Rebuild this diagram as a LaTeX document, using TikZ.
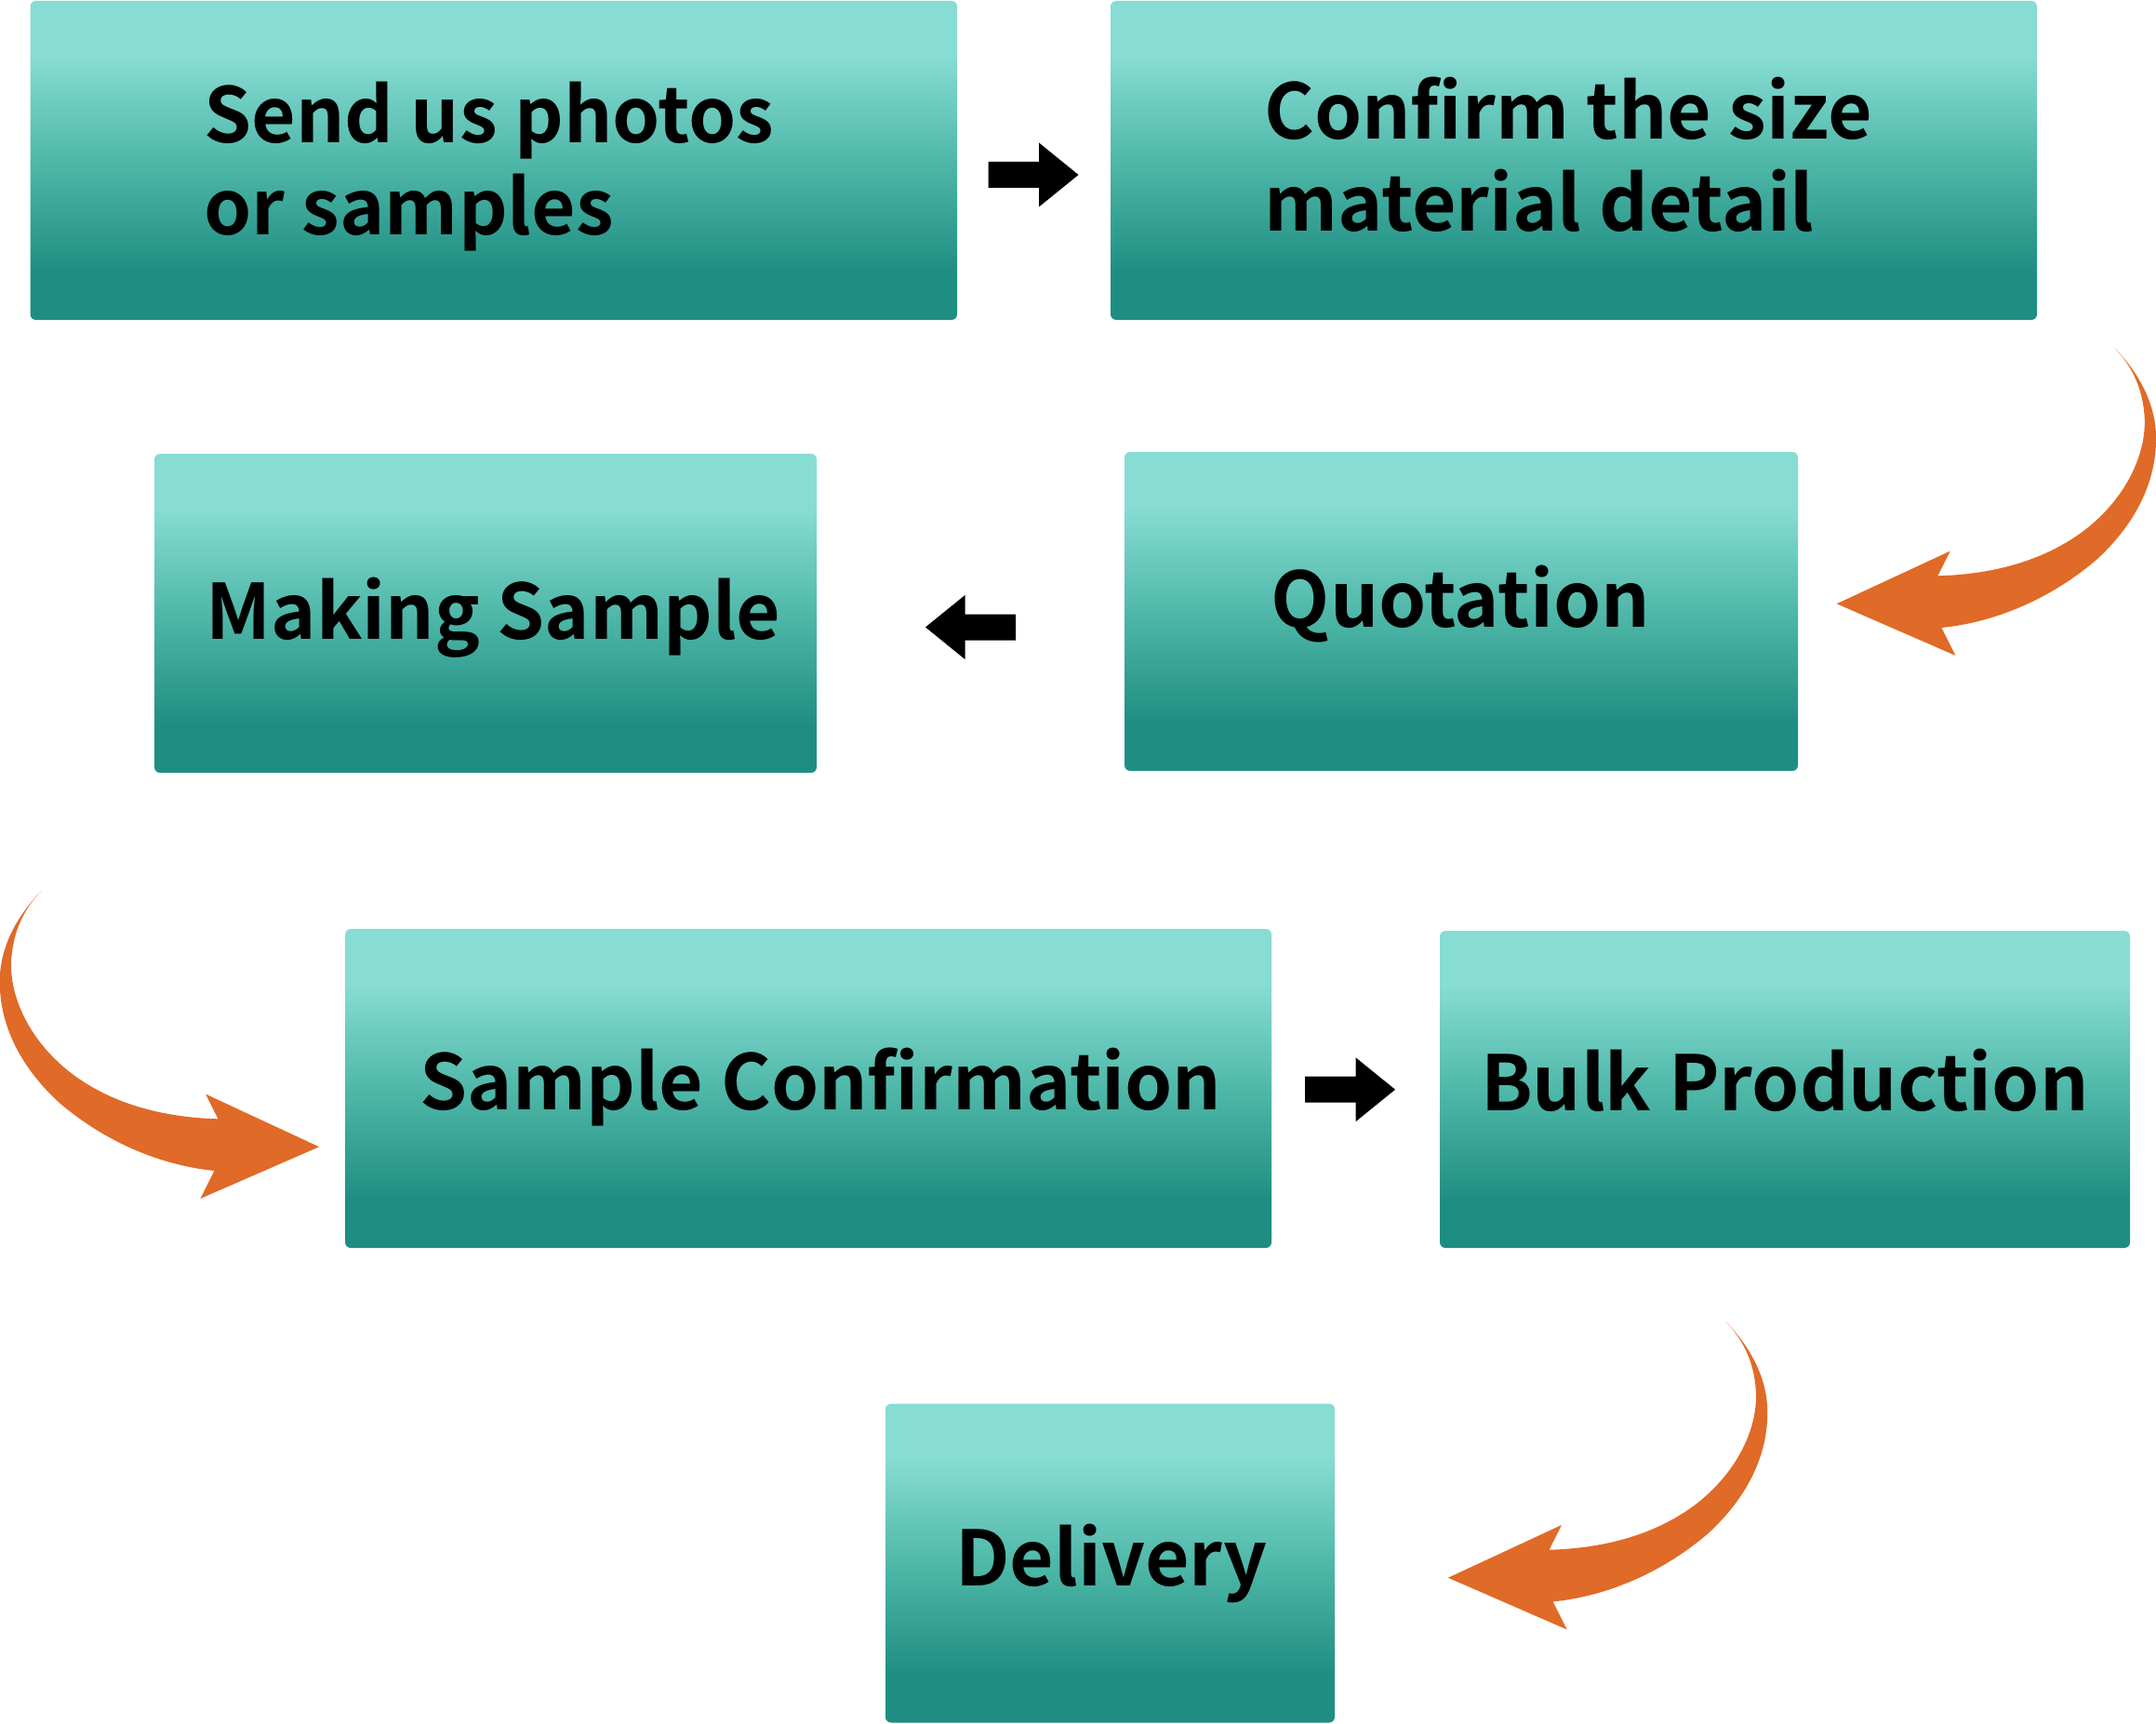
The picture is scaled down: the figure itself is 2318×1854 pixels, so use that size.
\documentclass[tikz,border=0pt]{standalone}
\usepackage{fontspec}
\newfontfamily\labfont{Noto Sans CJK SC}[BoldFont={* Bold}]
\usetikzlibrary{calc}
\definecolor{tlight}{HTML}{87DCD3}
\definecolor{tmid}{HTML}{4FB8A9}
\definecolor{tdark}{HTML}{1F8E82}
\definecolor{aorange}{HTML}{E06A27}
\pgfdeclareverticalshading{tealshade}{100bp}{color(0bp)=(tdark); color(32.5bp)=(tdark); color(50bp)=(tmid); color(66.5bp)=(tlight); color(100bp)=(tlight)}
\tikzset{
  stepbox/.style={rectangle, rounded corners=6pt, shading=tealshade, inner sep=0pt, draw=none},
  lab/.style={font=\labfont\bfseries\fontsize{82}{99}\selectfont, inner sep=0pt, anchor=base, text=black},
  blockarrow/.pic={\fill[black] (0,0) -- (-42.5,-34.5) -- (-42.5,-14) -- (-97,-14) -- (-97,14) -- (-42.5,14) -- (-42.5,34.5) -- cycle;},
  curvearrow/.pic={\fill[aorange] (0,0) -- (122,-56.7) -- (108.7,-30)
      .. controls (180,-32) and (230,-52) .. (265,-78)
      .. controls (310,-112) and (333,-160) .. (331,-200)
      .. controls (329,-235) and (315,-258) .. (298.7,-275.3)
      .. controls (325,-248) and (343,-215) .. (343.3,-179.3)
      .. controls (344,-130) and (320,-85) .. (280,-48)
      .. controls (230,-5) and (170,20) .. (112.7,25.7)
      -- (127.7,55.7) -- cycle;}
}
\begin{document}
\begin{tikzpicture}[x=1pt,y=-1pt]
\useasboundingbox (0,0) rectangle (2318,1854);
% boxes
\node[stepbox, minimum width=996.5pt, minimum height=343pt] (b1) at (530.75,172.5) {};
\node[stepbox, minimum width=996pt, minimum height=343pt] (b2) at (1692,172.5) {};
\node[stepbox, minimum width=712pt, minimum height=343pt] (b3) at (522,659.5) {};
\node[stepbox, minimum width=724pt, minimum height=343pt] (b4) at (1571,657.5) {};
\node[stepbox, minimum width=996pt, minimum height=343pt] (b5) at (869,1170.5) {};
\node[stepbox, minimum width=742pt, minimum height=341pt] (b6) at (1919,1171.5) {};
\node[stepbox, minimum width=483pt, minimum height=343pt] (b7) at (1193.5,1681) {};
% texts
\node[lab, anchor=base west, align=left] (t1) at (219,252) {Send us photos\\or samples};
\node[lab, anchor=base west, align=left] (t2) at (1359,248) {Confirm the size\\material detail};
\node[lab] (t3) at (530.6,687) {Making Sample};
\node[lab] (t4) at (1570.5,674) {Quotation};
\node[lab] (t5) at (882.5,1193) {Sample Confirmation};
\node[lab] (t6) at (1918.8,1194.5) {Bulk Production};
\node[lab] (t7) at (1195,1705) {Delivery};
% black arrows
\pic at ($(b1.east)!0.5!(b2.west)+(48,15.5)$) {blockarrow};
\pic[xscale=-1] at ($(b3.east)!0.5!(b4.west)+(-48.5,16)$) {blockarrow};
\pic at ($(b5.east)!0.5!(b6.west)+(42.5,0.7)$) {blockarrow};
% orange curved arrows
\pic at ($(b4.east)+(41.5,-8.2)$) {curvearrow};
\pic[xscale=-1] at ($(b5.west)+(-27.7,62.8)$) {curvearrow};
\pic at ($(b7.east)+(121.7,15.7)$) {curvearrow};
\end{tikzpicture}
\end{document}
